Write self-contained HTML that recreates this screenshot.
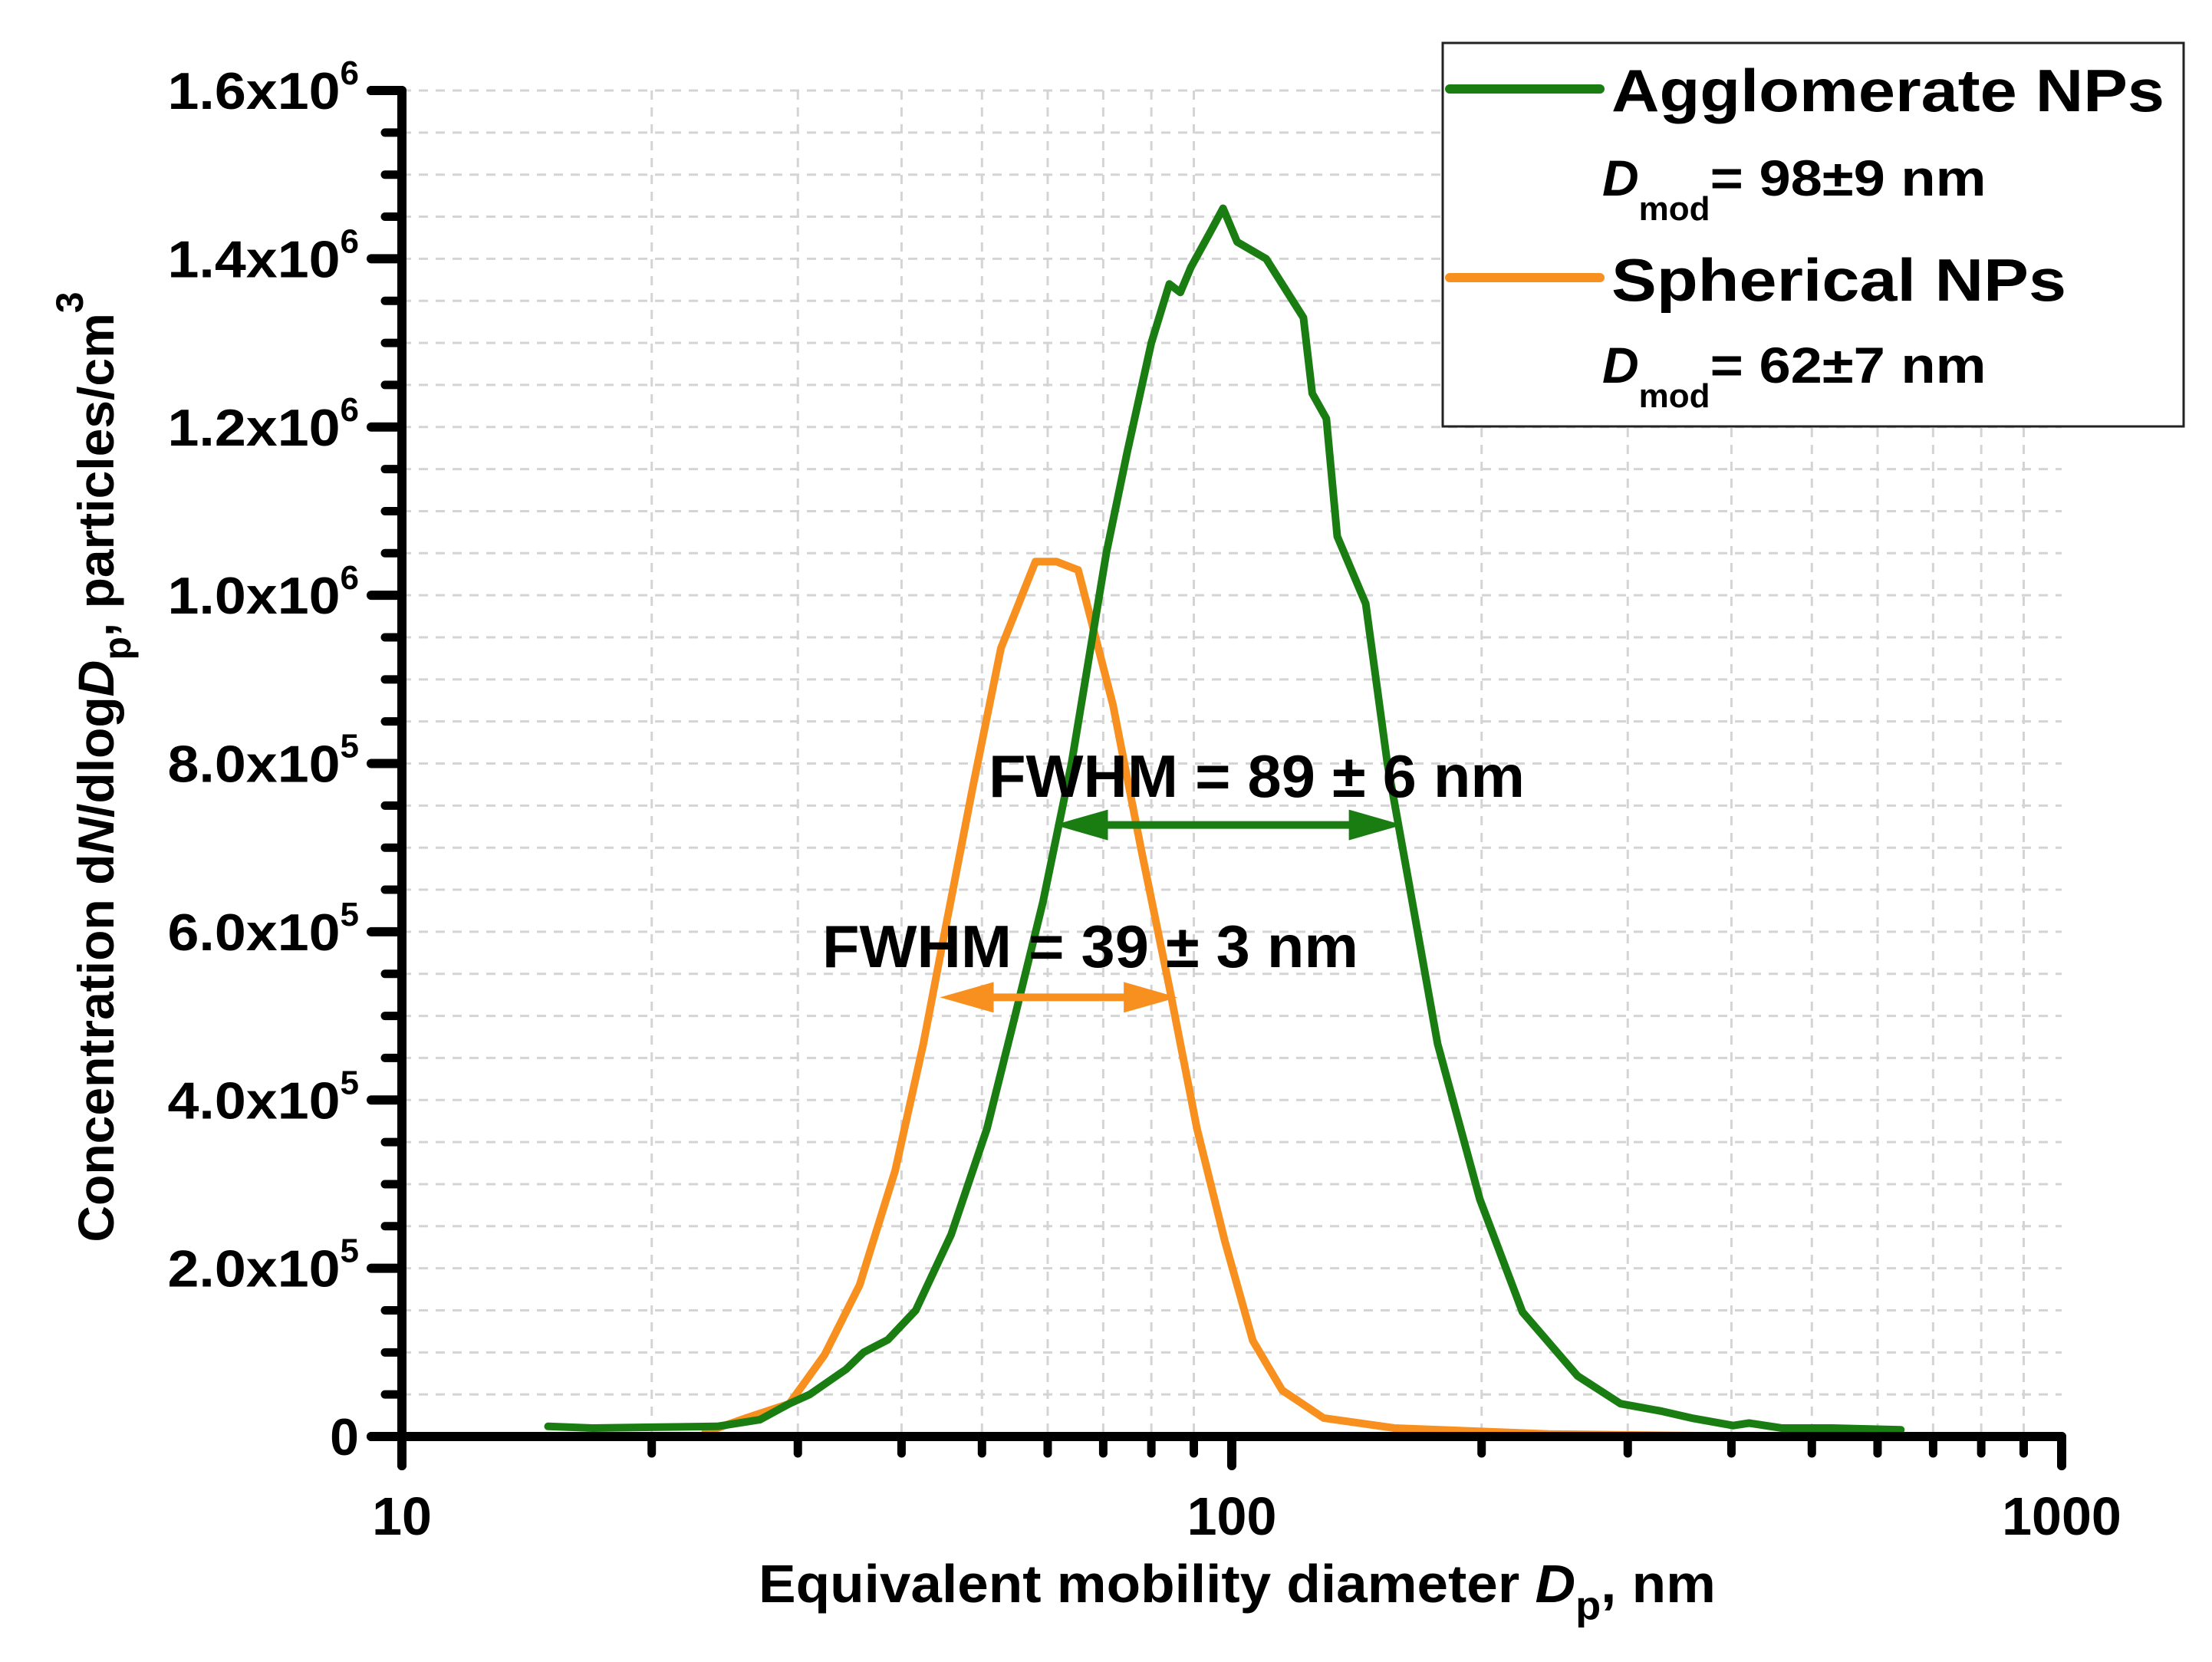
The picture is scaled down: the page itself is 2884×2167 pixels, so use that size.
<!DOCTYPE html>
<html><head><meta charset="utf-8"><style>
html,body{margin:0;padding:0;background:#fff;}
svg{display:block;font-family:"Liberation Sans",Arial,sans-serif;font-weight:bold;}
</style></head><body>
<svg id="chart" width="2884" height="2167" viewBox="0 0 2884 2167" xmlns="http://www.w3.org/2000/svg">
<g id="grid"></g>
<g id="series"></g>
<g id="axes"></g>
<g id="annot"></g>

<text x="0" y="0" transform="translate(148,1000) rotate(-90)" text-anchor="middle" font-size="66">Concentration d<tspan font-style="italic">N</tspan>/dlog<tspan font-style="italic">D</tspan><tspan font-size="50" dy="22">p</tspan><tspan dy="-22">, particles/cm</tspan><tspan font-size="50" dy="-40">3</tspan></text>

<text x="989" y="2089" font-size="70" textLength="1248" lengthAdjust="spacingAndGlyphs">Equivalent mobility diameter <tspan font-style="italic">D</tspan><tspan font-size="52" dy="22">p</tspan><tspan dy="-22">, nm</tspan></text>

<g>
<rect x="1881" y="56" width="966" height="500" fill="#fff" stroke="#222" stroke-width="3"/>
<line x1="1890" y1="116" x2="2086" y2="116" stroke="#1a7d12" stroke-width="12" stroke-linecap="round"/>
<text x="2101" y="145" font-size="78" textLength="721" lengthAdjust="spacingAndGlyphs">Agglomerate NPs</text>
<text x="2089" y="255" font-size="66"><tspan font-style="italic">D</tspan><tspan font-size="44" dy="32">mod</tspan><tspan dy="-32" textLength="360" lengthAdjust="spacingAndGlyphs">= 98±9 nm</tspan></text>
<line x1="1890" y1="362" x2="2086" y2="362" stroke="#f7901e" stroke-width="12" stroke-linecap="round"/>
<text x="2101" y="392" font-size="78" textLength="593" lengthAdjust="spacingAndGlyphs">Spherical NPs</text>
<text x="2089" y="499" font-size="66"><tspan font-style="italic">D</tspan><tspan font-size="44" dy="32">mod</tspan><tspan dy="-32" textLength="360" lengthAdjust="spacingAndGlyphs">= 62±7 nm</tspan></text>
</g>
<text x="1289" y="1039" font-size="78" textLength="699" lengthAdjust="spacingAndGlyphs">FWHM = 89 ± 6 nm</text>
<text x="1072" y="1261" font-size="78" textLength="699" lengthAdjust="spacingAndGlyphs">FWHM = 39 ± 3 nm</text>
</svg>
<script>
const aggD = [15,17,20,24,27,29.3,31,34.3,36,38.5,41.6,45.9,50.7,54.8,59.2,64.1,70.6,74.8,80,84.1,86.7,89.3,94,97.6,101.5,110,122,125,130,134,145,154,164,177,199,224,261,294,330,358,402,420,460,529,640];
const aggV = [12000,10000,11000,12000,20000,39000,50000,80000,100000,115000,150000,240000,366000,500000,635000,800000,1050000,1170000,1300000,1370000,1360000,1390000,1430000,1460000,1420000,1400000,1330000,1240000,1210000,1070000,990000,800000,650000,467000,282000,148000,72000,39000,30000,22000,13000,16000,10000,10000,8000];
const sphD = [23.2,26,29.3,32.3,35.6,39.3,42.5,45.1,48.7,52.7,58,61.5,65.3,71.9,77.7,84.1,90.8,98.1,106,115,129,157,241,434,640];
const sphV = [5000,22000,39000,97000,180000,316000,467000,600000,770000,937000,1040000,1040000,1030000,870000,700000,534000,366000,232000,114000,55000,22000,10000,3000,0,0];
const yTickValues = [0,200000,400000,600000,800000,1000000,1200000,1400000,1600000];
const yTickMant = ["0","2.0","4.0","6.0","8.0","1.0","1.2","1.4","1.6"];
const yTickExp = ["","5","5","5","5","6","6","6","6"];
const xTickValues = [10,100,1000];
const xTickLabels = ["10","100","1000"];
const fwhmAgg = [61.1,160.6,727000];
const fwhmSph = [44.5,86.0,522000];

const X0=524,XW=1082,Y0=1873,YH=1755,YMAX=1600000,XEND=2688,YTOP=118;
const sx=d=>X0+(Math.log10(d)-1)*XW;
const sy=v=>Y0-v/YMAX*YH;
const NS="http://www.w3.org/2000/svg";
function mk(tag,attrs,parent){const e=document.createElementNS(NS,tag);for(const k in attrs)e.setAttribute(k,attrs[k]);parent.appendChild(e);return e;}
const grid=document.getElementById('grid'),axes=document.getElementById('axes'),series=document.getElementById('series'),annot=document.getElementById('annot');

for(let v=50000;v<=YMAX;v+=50000){
 const l=mk('line',{x1:X0,x2:XEND,y1:sy(v),y2:sy(v),stroke:'#d4d4d4','stroke-width':3,'stroke-dasharray':'12 10'},grid);
 
 
}
for(let dec=10;dec<1000;dec*=10){
 for(let m=2;m<=9;m++){
  const x=sx(dec*m);
  const l=mk('line',{x1:x,x2:x,y1:YTOP,y2:Y0,stroke:'#d4d4d4','stroke-width':3,'stroke-dasharray':'12 10'},grid);
  
  
  const t=mk('line',{x1:x,x2:x,y1:Y0,y2:Y0+22,stroke:'#000','stroke-width':11,'stroke-linecap':'round'},axes);
  
  
 }
}
const ax=mk('path',{d:`M${X0-40},${YTOP} H${X0} V${Y0+38} M${X0-40},${Y0} H${XEND} V${Y0+38}`,fill:'none',stroke:'#000','stroke-width':12,'stroke-linecap':'round','stroke-linejoin':'round'},axes);


for(let v=50000;v<YMAX;v+=50000){
 if(v%200000===0)continue;
 const t=mk('line',{x1:X0-22,x2:X0,y1:sy(v),y2:sy(v),stroke:'#000','stroke-width':11,'stroke-linecap':'round'},axes);
 
 
}
yTickValues.forEach((v,i)=>{
 const y=sy(v);
 const t=mk('line',{x1:X0-40,x2:X0,y1:y,y2:y,stroke:'#000','stroke-width':12,'stroke-linecap':'round'},axes);
 
 
 const tx=mk('text',{x:468,y:y+24,'text-anchor':'end','font-size':68},axes);
 
 
 if(yTickExp[i]===''){tx.textContent=yTickMant[i];}
 else{
  const a=mk('tspan',{textLength:225,lengthAdjust:'spacingAndGlyphs'},tx);a.textContent=yTickMant[i]+'x10';
  const b=mk('tspan',{dy:-32,'font-size':44},tx);b.textContent=yTickExp[i];
 }
});
xTickValues.forEach((d,i)=>{
 const x=sx(d);
 const t=mk('line',{x1:x,x2:x,y1:Y0,y2:Y0+38,stroke:'#000','stroke-width':12,'stroke-linecap':'round'},axes);
 
 
 const tx=mk('text',{x:x,y:2001,'text-anchor':'middle','font-size':70},axes);
 
 
 tx.textContent=xTickLabels[i];
});
function line(D,V,color,name){
 const p=mk('polyline',{points:D.map((d,i)=>sx(d).toFixed(1)+','+sy(V[i]).toFixed(1)).join(' '),fill:'none',stroke:color,'stroke-width':10,'stroke-linejoin':'round','stroke-linecap':'round'},series);
 
 
}
line(sphD,sphV,'#f7901e','spherical-nps-line');
line(aggD,aggV,'#1a7d12','agglomerate-nps-line');
function arrow(f,color,name){
 const x1=sx(f[0]),x2=sx(f[1]),y=sy(f[2]);
 const g=mk('g',{},annot);
 
 
 mk('line',{x1:x1+40,x2:x2-40,y1:y,y2:y,stroke:color,'stroke-width':10},g);
 mk('polygon',{points:`${x1},${y} ${x1+70},${y-20} ${x1+70},${y+20}`,fill:color},g);
 mk('polygon',{points:`${x2},${y} ${x2-70},${y-20} ${x2-70},${y+20}`,fill:color},g);
}
arrow(fwhmAgg,'#1a7d12','fwhm-arrow-agglomerate');
arrow(fwhmSph,'#f7901e','fwhm-arrow-spherical');
</script>
</body></html>
